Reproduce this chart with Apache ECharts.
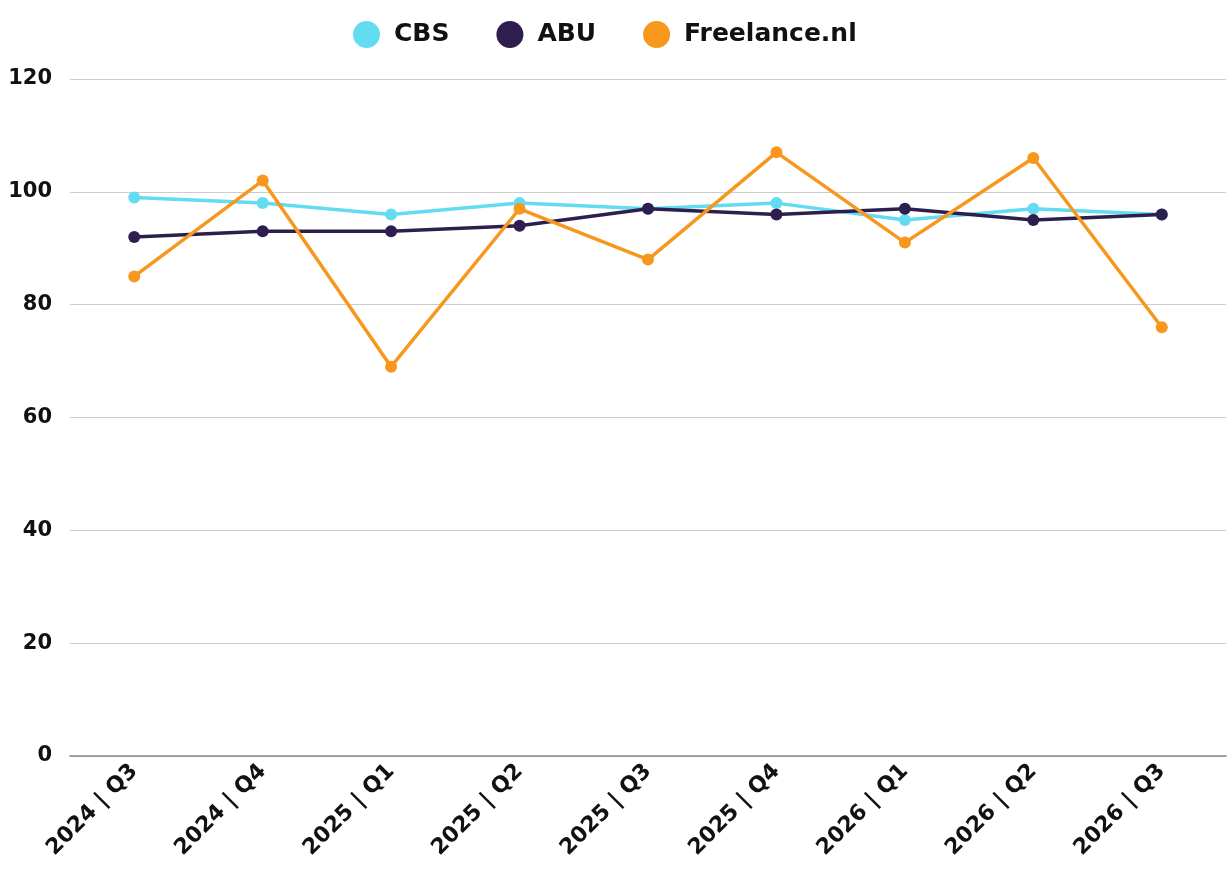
<!DOCTYPE html>
<html><head><meta charset="utf-8">
<script src="https://cdn.jsdelivr.net/npm/echarts@6/dist/echarts.min.js"></script>
<style>html,body{margin:0;padding:0;background:#fff}#c{width:1232px;height:890px}</style>
</head><body><div id="c"></div>
<script>
var categories = ['2024 | Q3','2024 | Q4','2025 | Q1','2025 | Q2','2025 | Q3','2025 | Q4','2026 | Q1','2026 | Q2','2026 | Q3'];
var cbs = [99, 98, 96, 98, 97, 98, 95, 97, 96];
var abu = [92, 93, 93, 94, 97, 96, 97, 95, 96];
var freelance = [85, 102, 69, 97, 88, 107, 91, 106, 76];
var yTicks = [0, 20, 40, 60, 80, 100, 120];

var font = '"DejaVu Sans", "Open Sans", sans-serif';
function s(name, data, color, z) {
  return {name: name, type: 'line', data: data, z: z,
    symbol: 'circle', symbolSize: 12,
    lineStyle: {width: 3.5, color: color}, itemStyle: {color: color}};
}
var chart = echarts.init(document.getElementById('c'));
chart.setOption({
  animation: false,
  textStyle: {fontFamily: font},
  legend: {top: 16, left: 348, itemWidth: 27, itemHeight: 27, itemGap: 47,
    icon: 'circle',
    textStyle: {fontSize: 25, fontWeight: 'bold', color: '#111', fontFamily: font, padding: [0,0,0,9]},
    data: ['CBS','ABU','Freelance.nl']},
  grid: {left: 70, right: 6, top: 79, bottom: 134, containLabel: false},
  xAxis: {type: 'category', data: categories, boundaryGap: true,
    axisLine: {lineStyle: {color: '#888', width: 1.5}},
    axisTick: {show: false},
    axisLabel: {rotate: 45, fontSize: 22, fontWeight: 'bold', color: '#111', margin: 12, interval: 0, fontFamily: font}},
  yAxis: {type: 'value', min: 0, max: 120, interval: 20,
    axisLine: {show: false}, axisTick: {show: false},
    splitLine: {lineStyle: {color: '#ccc', width: 1}},
    axisLabel: {fontSize: 21, fontWeight: 'bold', color: '#111', margin: 18, fontFamily: font,
      formatter: function(v){ return yTicks.indexOf(v) >= 0 ? String(v) : ''; }}},
  series: [
    s('CBS', cbs, '#63dcf2', 2),
    s('ABU', abu, '#2d1e4e', 3),
    s('Freelance.nl', freelance, '#f7971e', 4)
  ]
});
</script></body></html>
